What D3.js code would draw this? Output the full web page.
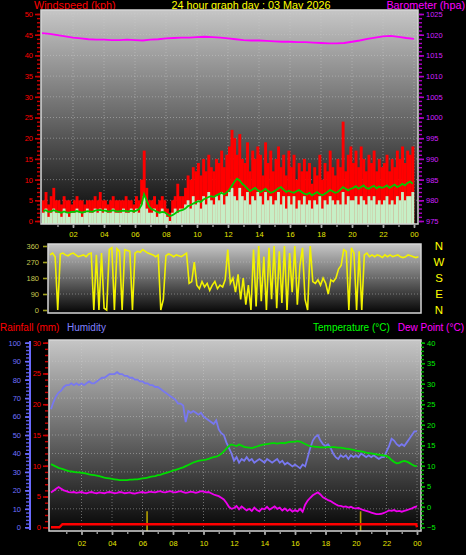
<!DOCTYPE html>
<html><head><meta charset="utf-8">
<script src="https://cdn.jsdelivr.net/npm/d3@7"></script>
<style>body{margin:0;background:#000}svg{display:block}text{font-family:"Liberation Sans",Arial,sans-serif}</style>
</head><body><script>
// ---------- DATA ----------
const titleText = "24 hour graph day : 03 May 2026";
const xTickHours = [2,4,6,8,10,12,14,16,18,20,22,24];
const xTickLabels = ["02","04","06","08","10","12","14","16","18","20","22","00"];
const windTicks = [0,5,10,15,20,25,30,35,40,45,50];
const baroTicks = [975,980,985,990,995,1000,1005,1010,1015,1020,1025];
const dirTicks = [0,90,180,270,360];
const compass = ["N","E","S","W","N"]; // at 0,90,180,270,360
const humTicks = [0,10,20,30,40,50,60,70,80,90,100];
const rainTicks = [0,5,10,15,20,25,30];
const tempTicks = [-5,0,5,10,15,20,25,30,35,40];

// barometer every 30 min (hPa)
const baro = [1020.4,1020.2,1019.9,1019.6,1019.3,1019.1,1018.9,1018.8,1018.8,1018.7,1018.7,1018.8,1018.7,1018.6,1018.8,1018.9,1019.1,1019.2,1019.3,1019.3,1019.4,1019.5,1019.4,1019.3,1019.1,1018.9,1018.7,1018.6,1018.6,1018.5,1018.4,1018.3,1018.3,1018.2,1018.2,1018.1,1018.0,1017.9,1017.9,1018.0,1018.3,1018.6,1019.0,1019.3,1019.6,1019.7,1019.5,1019.2,1019.0];

// wind gust every 10 min (kph)
const gust = [
5,7,4,6,8,5, 5,4,6,5,5,4, 5,6,5,5,4,5, 5,5,6,5,7,5, 5,4,5,6,5,5, 5,5,6,5,5,4,
6,5,10,17,8,5, 5,6,4,5,6,5, 3,2,5,6,9,6, 6,8,11,10,13,12, 14,11,15,12,16,13, 12,15,14,17,13,16,
18,22,20,16,21,15, 14,19,12,17,15,18, 16,11,19,14,17,12, 15,18,13,16,11,17, 13,16,10,14,12,15, 12,14,9,13,11,16,
10,14,12,17,13,11, 15,13,24,12,16,18, 14,17,13,18,15,12, 16,14,17,12,15,13, 14,16,12,15,13,17, 15,18,14,17,16,18];

// wind speed every 10 min (kph)
const speed = [
2,3,1,2,3,2, 2,1,3,2,1,2, 2,3,2,1,2,3, 2,2,3,2,3,2, 3,2,2,3,2,2, 2,3,2,2,3,2,
3,2,4,6,3,2, 2,3,1,2,3,2, 1,0,2,3,2,3, 3,4,5,3,6,4, 5,3,6,4,7,5, 4,6,5,7,4,6,
7,8,6,5,8,6, 5,7,4,6,5,7, 6,4,7,5,6,4, 5,7,4,6,3,6, 4,6,3,5,4,6, 4,5,3,5,4,6,
3,5,4,6,5,4, 5,4,7,4,6,5, 5,6,4,6,5,4, 6,5,6,4,5,4, 5,6,4,5,4,6, 5,7,5,6,6,7];

// average wind every 10 min (kph)
const avgWind = [
2.4,2.6,2.2,2.3,2.6,2.4, 2.2,2.0,2.3,2.1,2.0,2.2, 2.2,2.4,2.2,2.0,2.2,2.4, 2.3,2.2,2.5,2.6,2.7,2.5, 2.5,2.3,2.4,2.6,2.4,2.3, 2.4,2.5,2.4,2.3,2.5,2.3,
2.5,2.8,3.8,6.5,5.0,3.5, 2.8,2.6,2.2,2.0,2.2,2.1, 1.6,1.2,1.4,1.8,2.3,2.5, 2.7,3.0,3.6,3.8,4.2,4.5, 4.8,4.6,5.2,5.5,5.8,6.0, 5.8,6.2,6.5,6.8,6.4,6.9,
7.5,8.5,9.5,10.2,9.8,9.0, 8.5,7.8,7.2,7.6,8.0,7.4, 7.0,7.3,7.8,7.2,6.8,7.0, 7.4,7.9,8.2,7.6,7.0,7.3, 7.0,6.8,7.2,7.5,7.0,6.6, 6.4,6.8,6.2,6.6,7.0,6.5,
6.2,6.6,7.0,7.5,7.2,6.8, 7.0,7.6,8.2,7.8,7.4,7.8, 8.0,8.4,7.8,8.2,8.6,8.0, 7.8,8.2,8.5,7.9,8.3,8.0, 8.2,8.6,8.0,8.4,8.8,8.2, 8.5,9.0,8.6,9.2,9.5,9.0];

// wind direction every 10 min (degrees)
const windDir = [
310,320,300,0,315,320, 310,305,315,320,310,300, 305,310,300,315,320,0, 310,0,320,10,0,340, 350,0,345,330,0,340, 335,330,0,320,330,325,
340,330,320,315,310,300, 310,0,60,305,315,310, 300,310,305,300,310,320, 150,160,270,140,120,160, 130,150,110,140,160,120, 140,130,170,340,150,180,
100,200,60,180,30,140, 0,340,20,360,50,300, 0,350,60,360,10,330, 40,360,0,320,100,360, 30,250,350,60,0,360, 160,150,170,140,180,150,
90,170,160,180,230,250, 340,330,0,350,320,0, 330,0,310,320,300,310, 300,310,305,295,310,300, 310,300,305,310,300,295, 300,310,305,300,295,300];

// humidity every 10 min (%), 145 points to midnight
const humidity = [
64,68,71,73,74,76, 77,77,78,77,78,77, 78,77,78,79,78,78, 79,80,81,81,82,83, 83,83,84,83,83,82, 82,81,81,80,80,79,
79,78,78,77,77,76, 76,75,74,73,72,71, 70,69,67,67,66,57, 63,62,63,62,61,62, 60,59,58,57,56,58, 53,51,50,46,43,40,
36,38,35,37,36,38, 36,37,35,36,37,36, 35,37,36,35,36,37, 35,36,34,35,34,33, 34,33,32,34,33,38, 43,47,49,50,47,45,
44,45,43,40,38,37, 39,38,39,37,39,38, 39,38,40,39,38,39, 38,39,38,37,38,38, 41,44,48,47,45,44, 45,44,46,48,50,52, 52];

// temperature every 10 min (°C)
const temperature = [
10.4,10.1,9.8,9.5,9.3,9.1, 8.9,8.7,8.6,8.5,8.4,8.4, 8.3,8.2,8.1,7.9,7.8,7.7, 7.6,7.5,7.3,7.1,7.0,6.9, 6.8,6.7,6.6,6.5,6.5,6.5, 6.5,6.6,6.6,6.7,6.7,6.8,
6.9,7.0,7.1,7.3,7.4,7.5, 7.7,7.8,8.0,8.2,8.4,8.6, 8.8,9.0,9.2,9.4,9.6,9.9, 10.2,10.5,10.8,11.0,11.2,11.3, 11.4,11.5,11.7,11.9,12.1,12.2, 12.5,12.9,13.5,14.2,14.8,15.2,
15.0,14.8,15.2,14.9,14.6,14.5, 14.4,14.3,14.5,14.7,14.9,15.1, 15.2,15.3,15.4,15.5,15.5,15.4, 15.5,15.6,15.5,15.7,15.8,15.8, 15.9,16.0,15.9,15.6,15.3,15.0, 14.8,14.7,14.6,14.6,14.5,14.5,
14.5,14.6,14.5,14.6,14.5,14.4, 14.4,14.3,14.2,14.1,14.0,13.9, 13.7,13.6,13.5,13.4,13.2,13.1, 13.0,12.9,12.8,12.7,12.6,12.5, 12.4,12.0,11.4,10.9,10.6,10.7, 11.0,11.2,11.0,10.7,10.3,10.0, 9.9];

// dew point every 10 min (°C)
const dewPoint = [
3.5,3.9,4.4,4.8,4.4,4.0, 3.8,3.6,3.5,3.6,3.4,3.5, 3.6,3.4,3.3,3.5,3.6,3.4, 3.3,3.5,3.4,3.3,3.5,3.6, 3.5,3.3,3.4,3.6,3.5,3.3, 3.4,3.5,3.3,3.2,3.4,3.5,
3.6,3.4,3.5,3.7,3.6,3.5, 3.7,3.8,3.6,3.5,3.7,3.8, 3.6,3.5,3.7,3.8,3.6,3.4, 3.5,3.7,3.6,3.4,3.6,3.8, 3.7,3.5,3.6,3.3,3.0,2.8, 2.6,2.2,1.8,1.0,0.0,-0.5,
-0.3,0.2,-0.6,0.1,-0.4,-0.9, -0.5,-1.0,-0.2,-0.8,-1.1,-0.4, -0.6,0.0,-0.7,-0.3,0.1,-0.5, -0.2,-0.9,-0.4,-1.0,-0.6,-1.2, -0.8,-1.1,-0.5,-1.2,0.5,1.5, 2.2,2.8,3.2,3.5,3.0,2.3,
2.0,1.6,1.4,1.0,0.6,0.3, 0.2,0.0,0.1,-0.2,0.0,-0.3, -0.4,-0.3,-0.6,-0.8,-1.0,-1.2, -1.4,-1.6,-1.8,-1.8,-1.7,-1.5, -1.2,-0.9,-1.0,-0.8,-1.1,-1.0, -1.2,-1.0,-0.8,-0.6,-0.4,-0.1, 0.1];

// rainfall total (mm) at given hours
const rainHours = [0, 0.55, 0.75, 23.95, 24];
const rainTotal = [0, 0, 0.5, 0.5, 0];
// rain rate markers
const rateHours = [6.3, 20.3];
const rateValues = [2.6, 2.6];

// ---------- DRAW ----------
const W = 466, H = 555;
const svg = d3.select("body").append("svg").attr("width", W).attr("height", H);
svg.append("rect").attr("width", W).attr("height", H).attr("fill", "#000");
const defs = svg.append("defs");
const lg = defs.append("linearGradient").attr("id", "bg").attr("x1", 0).attr("y1", 0).attr("x2", 0).attr("y2", 1);
[[0, "#c6c6c6"], [0.5, "#686868"], [1, "#050505"]].forEach(([o, c]) => lg.append("stop").attr("offset", o).attr("stop-color", c));

function panel(id, x0, y0, x1, y1) {
  svg.append("rect").attr("x", x0).attr("y", y0).attr("width", x1 - x0).attr("height", y1 - y0).attr("fill", "url(#bg)");
  defs.append("clipPath").attr("id", id).append("rect").attr("x", x0).attr("y", y0).attr("width", x1 - x0).attr("height", y1 - y0);
  return svg.append("g").attr("clip-path", `url(#${id})`);
}
function border(x0, y0, x1, y1) {
  svg.append("rect").attr("x", x0).attr("y", y0).attr("width", x1 - x0).attr("height", y1 - y0)
    .attr("fill", "none").attr("stroke", "#d6d6d6").attr("stroke-width", 1.5);
}
function grid(g, xs, ys, xVals, yVals, x0, y0, x1, y1) {
  xVals.forEach(v => g.append("line").attr("x1", xs(v)).attr("x2", xs(v)).attr("y1", y0).attr("y2", y1)
    .attr("stroke", "#cfcfcf").attr("stroke-opacity", 0.45).attr("stroke-dasharray", "1,2"));
  yVals.forEach(v => g.append("line").attr("x1", x0).attr("x2", x1).attr("y1", ys(v)).attr("y2", ys(v))
    .attr("stroke", "#cfcfcf").attr("stroke-opacity", 0.45).attr("stroke-dasharray", "1,2"));
}
function styleAxis(sel, color, tcolor, fs) {
  sel.select(".domain").remove();
  sel.selectAll(".tick line").attr("stroke", color).attr("stroke-width", 1.6);
  sel.selectAll(".tick text").attr("fill", tcolor || color).attr("font-size", fs || 7.5)
    .attr("font-family", '"Liberation Sans",Arial,sans-serif');
}
function minor(axisFn, scale, vals, size, tx, ty, color) {
  const a = svg.append("g").attr("transform", `translate(${tx},${ty})`)
    .call(axisFn(scale).tickValues(vals).tickSize(size).tickFormat(""));
  a.select(".domain").remove();
  a.selectAll(".tick line").attr("stroke", color).attr("stroke-width", 1.4);
}
const fmt = d3.format("d");

// Header texts
svg.append("text").attr("x", 34).attr("y", 9).attr("fill", "#ff0000").attr("font-size", 10.8).text("Windspeed (kph)");
svg.append("text").attr("x", 251).attr("y", 9).attr("text-anchor", "middle").attr("fill", "#ffff00").attr("font-size", 10.8).text(titleText);
svg.append("text").attr("x", 465).attr("y", 9).attr("text-anchor", "end").attr("fill", "#ff00ff").attr("font-size", 10.8).text("Barometer (hpa)");

// ===== TOP PANEL =====
const T = {x0: 41, y0: 10, x1: 418, y1: 224};
const xTop = d3.scaleLinear().domain([0, 24]).range([42, 414]);
const yWind = d3.scaleLinear().domain([0, 50]).range([221, 14]);
const yBaro = d3.scaleLinear().domain([975, 1025]).range([221, 14]);
const gTop = panel("cTop", T.x0, T.y0, T.x1, T.y1);
grid(gTop, xTop, yWind, xTickHours, windTicks.slice(1), T.x0, T.y0, T.x1, T.y1);
const step = 1 / 6;
gTop.selectAll("rect.gust").data(gust).join("rect")
  .attr("x", (d, i) => xTop(i * step)).attr("width", (d, i) => xTop((i + 1) * step) - xTop(i * step) + 0.3)
  .attr("y", d => yWind(d)).attr("height", d => yWind(0) - yWind(d) + 3).attr("fill", "#ff0000");
gTop.selectAll("rect.spd").data(speed).join("rect")
  .attr("x", (d, i) => xTop(i * step)).attr("width", (d, i) => xTop((i + 1) * step) - xTop(i * step) + 0.2)
  .attr("y", d => yWind(d)).attr("height", d => yWind(0) - yWind(d) + 3).attr("fill", "#c6efc6");
gTop.append("path").datum(avgWind)
  .attr("d", d3.line().x((d, i) => xTop(i * step + step / 2)).y(d => yWind(d)))
  .attr("fill", "none").attr("stroke", "#00c800").attr("stroke-width", 1.8);
gTop.append("path").datum(baro)
  .attr("d", d3.line().x((d, i) => xTop(i * 0.5)).y(d => yBaro(d)))
  .attr("fill", "none").attr("stroke", "#ff00ff").attr("stroke-width", 1.8);
border(T.x0, T.y0, T.x1, T.y1);

// left wind axis
minor(d3.axisLeft, yWind, d3.range(0, 51, 1), 3, 40, 0, "#cc0000");
styleAxis(svg.append("g").attr("transform", "translate(40,0)")
  .call(d3.axisLeft(yWind).tickValues(windTicks).tickFormat(fmt).tickSize(5).tickPadding(2)), "#cc0000", "#ff0000");
// right baro axis
minor(d3.axisRight, yBaro, d3.range(975, 1026, 1), 3, 419, 0, "#b000c8");
styleAxis(svg.append("g").attr("transform", "translate(419,0)")
  .call(d3.axisRight(yBaro).tickValues(baroTicks).tickFormat(fmt).tickSize(5).tickPadding(2)), "#b000c8", "#d020ff");
// top x axis
minor(d3.axisBottom, xTop, d3.range(1, 25, 1), 3, 0, 224, "#9a9a9a");
styleAxis(svg.append("g").attr("transform", "translate(0,224)")
  .call(d3.axisBottom(xTop).tickValues(xTickHours).tickFormat((d, i) => xTickLabels[i]).tickSize(4).tickPadding(4)), "#aaaaaa", "#e6e600", 7.5);

// ===== MIDDLE PANEL =====
const M = {x0: 48, y0: 244, x1: 421, y1: 313};
const xMid = d3.scaleLinear().domain([0, 24]).range([50, 421]);
const yDir = d3.scaleLinear().domain([0, 360]).range([310, 246]);
const gMid = panel("cMid", M.x0, M.y0, M.x1, M.y1);
grid(gMid, xMid, yDir, [], [90, 180, 270], M.x0, M.y0, M.x1, M.y1);
gMid.append("path").datum(windDir)
  .attr("d", d3.line().x((d, i) => xMid(i * step)).y(d => yDir(d)))
  .attr("fill", "none").attr("stroke", "#f2f200").attr("stroke-width", 1.6);
border(M.x0, M.y0, M.x1, M.y1);
styleAxis(svg.append("g").attr("transform", "translate(47,0)")
  .call(d3.axisLeft(yDir).tickValues(dirTicks).tickFormat(fmt).tickSize(4).tickPadding(4)), "#a0a020", "#c8c850");
svg.append("g").selectAll("text").data(dirTicks).join("text")
  .attr("x", 439).attr("y", d => yDir(d)).attr("dy", "0.36em").attr("text-anchor", "middle")
  .attr("fill", "#ffff00").attr("font-size", 11.5).text((d, i) => compass[i]);

// ===== BOTTOM PANEL =====
svg.append("text").attr("x", 0).attr("y", 331).attr("fill", "#ff0000").attr("font-size", 10).text("Rainfall (mm)");
svg.append("text").attr("x", 67).attr("y", 331).attr("fill", "#8080ff").attr("font-size", 10).text("Humidity");
svg.append("text").attr("x", 313).attr("y", 331).attr("fill", "#00ff00").attr("font-size", 10).text("Temperature (°C)");
svg.append("text").attr("x", 464).attr("y", 331).attr("text-anchor", "end").attr("fill", "#ff00ff").attr("font-size", 10).text("Dew Point (°C)");

const B = {x0: 49, y0: 340, x1: 421, y1: 531};
const xBot = d3.scaleLinear().domain([0, 24]).range([51, 417]);
const yHum = d3.scaleLinear().domain([0, 100]).range([527.3, 342.7]);
const yRain = d3.scaleLinear().domain([0, 30]).range([527.3, 342.7]);
const yTemp = d3.scaleLinear().domain([-5, 40]).range([527.3, 342.7]);
const gBot = panel("cBot", B.x0, B.y0, B.x1, B.y1);
grid(gBot, xBot, yHum, xTickHours, humTicks.slice(1, 10), B.x0, B.y0, B.x1, B.y1);
gBot.selectAll("line.rate").data(rateValues).join("line")
  .attr("x1", (d, i) => xBot(rateHours[i])).attr("x2", (d, i) => xBot(rateHours[i]))
  .attr("y1", B.y1).attr("y2", d => yRain(d)).attr("stroke", "#b4a000").attr("stroke-width", 1.6);
gBot.append("path").datum(humidity)
  .attr("d", d3.line().x((d, i) => xBot(i * step)).y(d => yHum(d)))
  .attr("fill", "none").attr("stroke", "#7878f0").attr("stroke-width", 1.8);
gBot.append("path").datum(temperature)
  .attr("d", d3.line().x((d, i) => xBot(i * step)).y(d => yTemp(d)))
  .attr("fill", "none").attr("stroke", "#00dd00").attr("stroke-width", 1.8);
gBot.append("path").datum(dewPoint)
  .attr("d", d3.line().x((d, i) => xBot(i * step)).y(d => yTemp(d)))
  .attr("fill", "none").attr("stroke", "#ee00ee").attr("stroke-width", 1.8);
gBot.append("path").datum(rainTotal)
  .attr("d", d3.line().x((d, i) => xBot(rainHours[i])).y(d => yRain(d)))
  .attr("fill", "none").attr("stroke", "#ff0000").attr("stroke-width", 2.4);
border(B.x0, B.y0, B.x1, B.y1);

// humidity axis
svg.append("line").attr("x1", 30).attr("x2", 30).attr("y1", 341).attr("y2", 530).attr("stroke", "#6a6aff").attr("stroke-width", 2);
minor(d3.axisLeft, yHum, d3.range(0, 101, 2), 3, 29, 0, "#5a5ae0");
styleAxis(svg.append("g").attr("transform", "translate(29,0)")
  .call(d3.axisLeft(yHum).tickValues(humTicks).tickFormat(fmt).tickSize(4).tickPadding(4)), "#6a6aff", "#7070ff");
// rain axis
minor(d3.axisLeft, yRain, d3.range(0, 31, 1), 3, 48, 0, "#cc0000");
styleAxis(svg.append("g").attr("transform", "translate(48,0)")
  .call(d3.axisLeft(yRain).tickValues(rainTicks).tickFormat(fmt).tickSize(5).tickPadding(2)), "#cc0000", "#ff0000");
// temp axis
minor(d3.axisRight, yTemp, d3.range(-5, 41, 1), 3, 421, 0, "#00b000");
styleAxis(svg.append("g").attr("transform", "translate(421,0)")
  .call(d3.axisRight(yTemp).tickValues(tempTicks).tickFormat(fmt).tickSize(4).tickPadding(2)), "#00b000", "#00ee00");
// bottom x axis
minor(d3.axisBottom, xBot, d3.range(1, 25, 1), 3, 0, 531, "#9a9a9a");
styleAxis(svg.append("g").attr("transform", "translate(0,531)")
  .call(d3.axisBottom(xBot).tickValues(xTickHours).tickFormat((d, i) => xTickLabels[i]).tickSize(4).tickPadding(6)), "#aaaaaa", "#e6e600", 7.5);
</script></body></html>
